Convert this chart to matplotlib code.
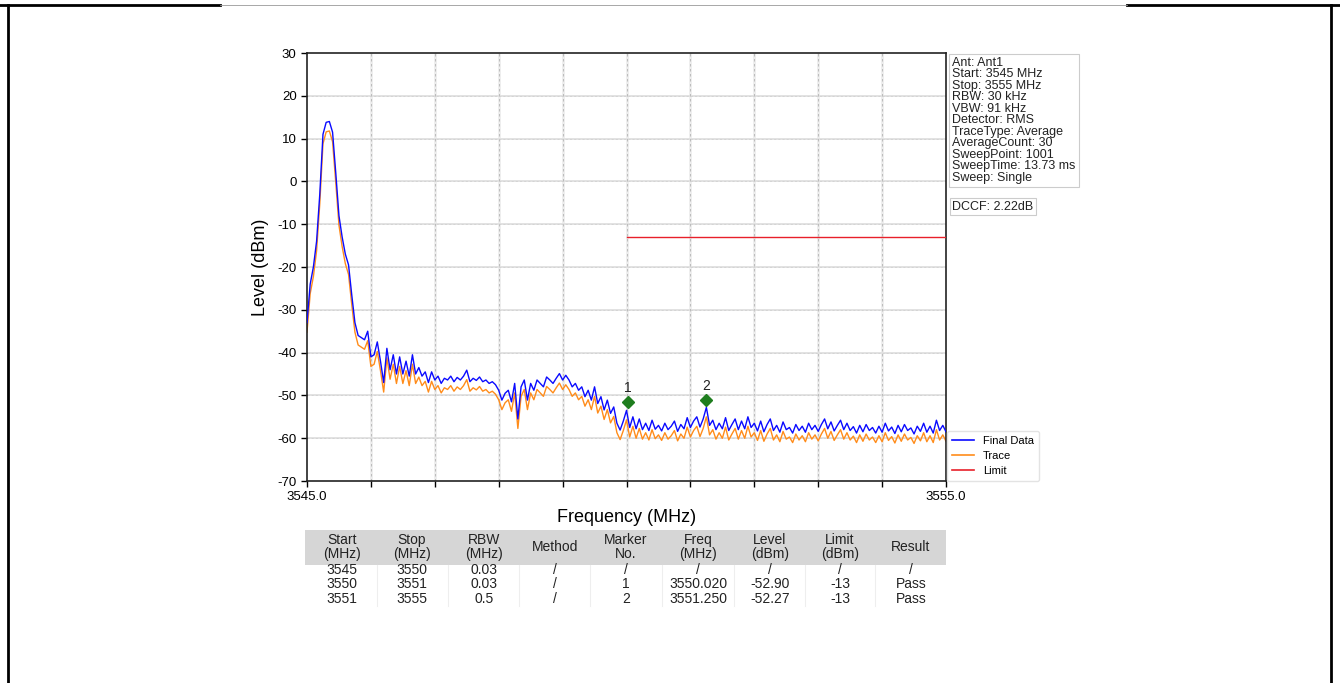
import numpy as np
import matplotlib
matplotlib.use("Agg")
import matplotlib.pyplot as plt
from matplotlib.lines import Line2D
from matplotlib.patches import Rectangle

plt.rcParams['font.family'] = ['Liberation Sans', 'DejaVu Sans']
plt.rcParams['axes.unicode_minus'] = False

# ---------------- data ----------------
f_start, f_stop = 3545.0, 3555.0
final_data = [
    -33, -24, -20, -14, -3, 11, 13.8, 14, 11.5, 2,
    -8, -13, -17, -19.5, -26.5, -33, -36, -36.5, -37, -35,
    -41, -40.5, -37.5, -42, -47, -39, -44, -40.5, -45, -41,
    -45, -42, -45.5, -40.5, -45, -43.5, -45.5, -44.5, -47, -44.5,
    -46.4, -45.5, -47.2, -46, -46.4, -45.5, -46.8, -45.8, -46.4, -45.5,
    -44.1, -46.8, -46, -46.5, -45.7, -46.8, -46.4, -47.2, -46.8, -47.5,
    -48.8, -51.1, -49.5, -48.8, -51.5, -47.2, -55.5, -48, -46.4, -51.1,
    -47.2, -48.8, -46.4, -47.2, -48, -45.7, -46.4, -47.2, -46, -44.9,
    -46.4, -45.3, -46.4, -48, -47.2, -48.8, -48, -50.3, -48.8, -51.1,
    -48, -51.9, -50.3, -53.4, -51.1, -54.2, -52.7, -56.5, -58.1, -56,
    -53.5, -57.5, -55, -57.8, -55.5, -58, -56.5, -58.2, -55.8, -57.9,
    -57, -58.3, -56.5, -58, -57.2, -56, -58.4, -56.8, -57.8, -55.2,
    -57.5, -56, -55, -57.4, -55.5, -52.8, -57, -55.8, -58, -56.5,
    -57.8, -55.2, -58.2, -56.8, -55.5, -58, -56, -57.8, -55, -57.5,
    -56.5, -58.3, -56, -58.5, -56.8, -55.5, -58.2, -57, -58.6, -56.2,
    -58, -57.5, -58.8, -56.8, -58.2, -57.2, -58.6, -56.5, -58, -57,
    -58.4, -56.8, -55.5, -57.8, -56.2, -58.3, -57, -55.8, -58, -56.5,
    -58.2, -57.3, -58.8, -57, -58.5, -56.8, -58.2, -57.5, -58.8, -57.2,
    -58.6, -56.5, -58.3, -57.4, -58.9, -57, -58.5, -56.8, -58.2, -57.6,
    -59, -57.2, -58.4, -56.5, -58.6, -57.2, -58.8, -55.8, -58.2, -57,
    -58.5,
]
dccf_db = 2.22
limit_freqs = [3550.0, 3555.0]
limit_levels = [-13.0, -13.0]
marker_nos = ['1', '2']
marker_freqs = [3550.02, 3551.25]
marker_plot_levels = [-51.5, -51.0]

info_lines = ["Ant: Ant1", "Start: 3545 MHz", "Stop: 3555 MHz", "RBW: 30 kHz",
              "VBW: 91 kHz", "Detector: RMS", "TraceType: Average",
              "AverageCount: 30", "SweepPoint: 1001", "SweepTime: 13.73 ms",
              "Sweep: Single"]
dccf_text = "DCCF: 2.22dB"

table_header = ["Start\n(MHz)", "Stop\n(MHz)", "RBW\n(MHz)", "Method", "Marker\nNo.",
                "Freq\n(MHz)", "Level\n(dBm)", "Limit\n(dBm)", "Result"]
table_rows = [
    ["3545", "3550", "0.03", "/", "/", "/", "/", "/", "/"],
    ["3550", "3551", "0.03", "/", "1", "3550.020", "-52.90", "-13", "Pass"],
    ["3551", "3555", "0.5", "/", "2", "3551.250", "-52.27", "-13", "Pass"],
]

freqs = np.linspace(f_start, f_stop, len(final_data))
final_arr = np.array(final_data)
trace_arr = final_arr - dccf_db

# ---------------- figure ----------------
W, H = 1340, 683
fig = plt.figure(figsize=(W / 100, H / 100), dpi=100)

def fx(px):
    return px / W

def fy(py):
    return 1 - py / H

ax = fig.add_axes([fx(307), fy(481), fx(946) - fx(307), fy(53) - fy(481)])

# grid (light solid + dashed)
for v in np.arange(3546, 3555, 1):
    ax.axvline(v, color='#ececec', lw=2.0, zorder=0)
    ax.axvline(v, color='#b4b4b4', lw=0.6, ls=(0, (3, 3)), zorder=0.5)
for v in np.arange(-60, 30, 10):
    ax.axhline(v, color='#e2e2e2', lw=1.4, zorder=0)
    ax.axhline(v, color='#cfcfcf', lw=0.5, ls=(0, (3, 3)), zorder=0.5)

ax.plot(freqs, trace_arr, color='#ff8c1a', lw=1.0, zorder=2)
ax.plot(freqs, final_arr, color='#0a0aff', lw=1.0, zorder=3)
ax.plot(limit_freqs, limit_levels, color='#e8202a', lw=1.0, zorder=3)

for no, mf, ml in zip(marker_nos, marker_freqs, marker_plot_levels):
    ax.plot([mf], [ml], marker='D', color='#1e7d1e', ms=6, zorder=5)
    ax.text(mf, ml + 1.6, no, ha='center', va='bottom', fontsize=10, color='#222222', zorder=6)

ax.set_xlim(f_start, f_stop)
ax.set_ylim(-70, 30)
ax.set_yticks(np.arange(-70, 31, 10))
ax.set_xticks([f_start, f_stop])
ax.set_xticklabels(["3545.0", "3555.0"])
ax.set_xticks(np.arange(3546, 3555, 1), minor=True)
ax.tick_params(axis='both', which='major', labelsize=9.5, length=4, width=1, direction='out')
ax.tick_params(axis='x', which='minor', length=4, width=1, direction='out')
for s in ax.spines.values():
    s.set_color('#222222')
    s.set_linewidth(1.2)
ax.set_xlabel("Frequency (MHz)", fontsize=13, labelpad=4)
ax.set_ylabel("Level (dBm)", fontsize=13, labelpad=6)

# legend
handles = [Line2D([], [], color='#0a0aff', lw=1.2),
           Line2D([], [], color='#ff8c1a', lw=1.2),
           Line2D([], [], color='#e8202a', lw=1.2)]
leg = fig.legend(handles, ["Final Data", "Trace", "Limit"], loc='lower left',
                 bbox_to_anchor=(fx(947), fy(481)), fontsize=8, frameon=True,
                 borderpad=0.45, handlelength=2.0, labelspacing=0.45, borderaxespad=0,
                 fancybox=True, edgecolor='#dddddd')

# info box
fig.text(fx(952), fy(57), "\n".join(info_lines), ha='left', va='top', fontsize=9,
         linespacing=0.94, color='#222222',
         bbox=dict(boxstyle='square,pad=0.25', fc='white', ec='#cccccc', lw=0.8))
fig.text(fx(952), fy(201), dccf_text, ha='left', va='top', fontsize=9, color='#222222',
         bbox=dict(boxstyle='square,pad=0.2', fc='white', ec='#cccccc', lw=0.8))

# table
col_x = [342, 412, 484, 555, 626, 698, 770, 840, 911]
fig.patches.append(Rectangle((fx(305), fy(565)), fx(946) - fx(305), fy(530) - fy(565),
                             transform=fig.transFigure, fc='#d6d6d6', ec='none', zorder=0))
tfam = ['Liberation Sans Narrow', 'Liberation Sans', 'DejaVu Sans']
for cx, h in zip(col_x, table_header):
    fig.text(fx(cx), fy(547), h, ha='center', va='center', fontsize=10,
             linespacing=0.92, family=tfam, color='#222222')
for r, row in enumerate(table_rows):
    yy = 570 + r * 14.5
    for cx, val in zip(col_x, row):
        fig.text(fx(cx), fy(yy), val, ha='center', va='center', fontsize=10,
                 family=tfam, color='#222222')
for b in [377, 448, 519, 590, 662, 734, 805, 875]:
    fig.add_artist(Line2D([fx(b), fx(b)], [fy(565), fy(606)], color='#eeeeee', lw=0.8))

# document frame
fig.add_artist(Line2D([0, fx(220)], [fy(5), fy(5)], color='black', lw=2))
fig.add_artist(Line2D([fx(1127), 1], [fy(5), fy(5)], color='black', lw=2))
fig.add_artist(Line2D([fx(220), fx(1127)], [fy(5), fy(5)], color='#999999', lw=0.6))
fig.add_artist(Line2D([fx(8), fx(8)], [fy(5), 0], color='black', lw=2))
fig.add_artist(Line2D([fx(1331), fx(1331)], [fy(5), 0], color='black', lw=2))

fig.savefig("out.png", dpi=100)
